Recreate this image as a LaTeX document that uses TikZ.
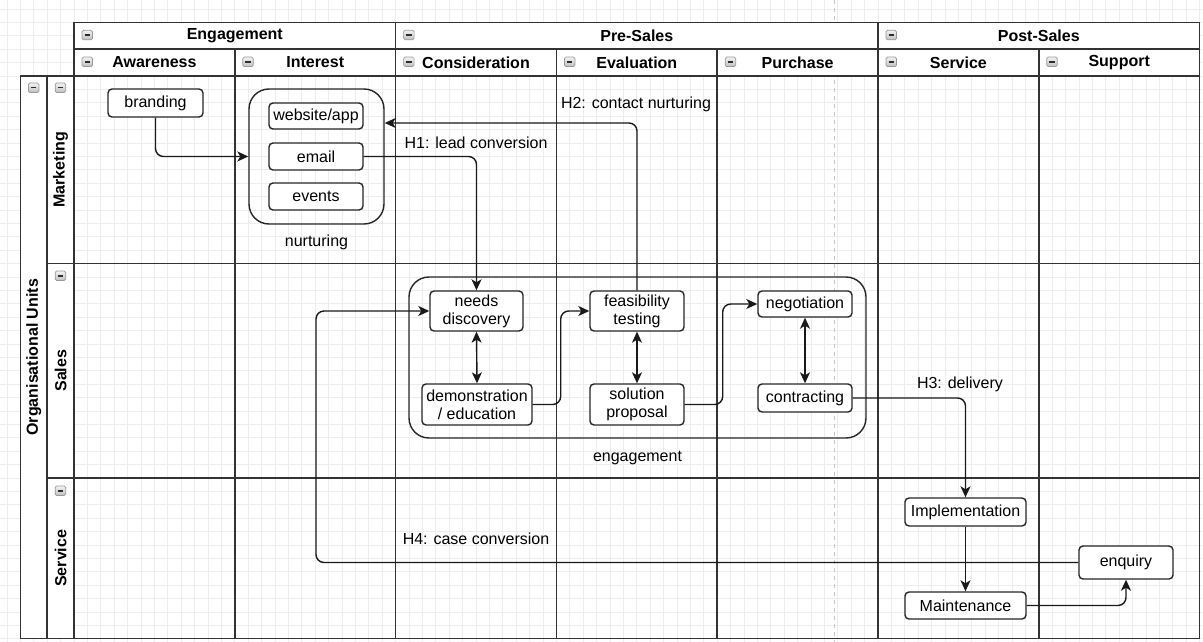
\documentclass[tikz,border=0pt]{standalone}
\usepackage{fontspec}
\setmainfont{Liberation Sans}
\usetikzlibrary{arrows.meta,calc}

\begin{document}
\begin{tikzpicture}[x=1pt,y=-1pt,
  gridline/.style={draw=gray!14, line width=0.7pt},
  lane/.style={line width=1.5pt, draw=black!80},
  hdr/.style={font=\fontsize{16}{19}\selectfont\bfseries, inner sep=0pt},
  box/.style={draw=black!85, line width=1.4pt, rounded corners=4pt, fill=white,
    align=center, inner sep=0pt, font=\fontsize{16}{18}\selectfont},
  group/.style={draw=black!85, line width=1.4pt, rounded corners=20pt, inner sep=0pt},
  lbl/.style={font=\fontsize{16}{18}\selectfont, inner sep=0pt},
  conn/.style={draw=black!90, line width=1.4pt, rounded corners=8pt,
    -{Stealth[length=11pt,width=10pt,inset=3pt]}},
  dconn/.style={draw=black!90, line width=1.4pt,
    {Stealth[length=11pt,width=10pt,inset=3pt]}-{Stealth[length=11pt,width=10pt,inset=3pt]}},
  minusicon/.pic={
    \shadedraw[top color=gray!10, bottom color=gray!50, draw=gray!80, line width=0.7pt,
      rounded corners=1.5pt] (0,0) rectangle (10.5,9.5);
    \draw[gray!35!black, line width=1.5pt] (2.5,4.75) -- (8,4.75);
  }
]
\useasboundingbox (0,0) rectangle (1203,642);

% background grid
\foreach \k in {0,...,89} \draw[gridline] ({7+13.4*\k},0) -- ({7+13.4*\k},642);
\foreach \k in {0,...,47} \draw[gridline] (0,{8.9+13.4*\k}) -- (1203,{8.9+13.4*\k});

% page break marker
\draw[gray!45, dash pattern=on 4pt off 4pt, line width=0.9pt] (834,0) -- (834,642);

% header and lane-title backgrounds
\fill[white] (74,22.3) rectangle (1199.6,75.9);
\fill[white] (20.4,75.9) rectangle (74,638.7);

% swimlane table
\draw[lane] (74,22.3) rectangle (1199.6,638.7);
\draw[lane] (74,49.1) -- (1199.6,49.1);
\draw[lane] (20.4,75.9) -- (1199.6,75.9);
\draw[lane] (20.4,75.9) -- (20.4,638.7) -- (74,638.7);
\draw[lane] (47.2,75.9) -- (47.2,638.7);
\draw[lane] (47.2,263.5) -- (1199.6,263.5);
\draw[lane] (47.2,477.9) -- (1199.6,477.9);
\foreach \x in {395.6,878} \draw[lane] (\x,22.3) -- (\x,638.7);
\foreach \x in {234.8,556.4,717.2,1038.8} \draw[lane] (\x,49.1) -- (\x,638.7);

% phase headers
\node[hdr] (hEng) at (234.8,35.7) {Engagement};
\node[hdr] (hPre) at (636.8,35.7) {Pre-Sales};
\node[hdr] (hPost) at (1038.8,35.7) {Post-Sales};
\foreach \x in {74,395.6,878} \pic at ({\x+8},30.3) {minusicon};

% stage headers
\node[hdr] (hAwa) at (154.4,62.5) {Awareness};
\node[hdr] (hInt) at (315.2,62.5) {Interest};
\node[hdr] (hCon) at (476,62.5) {Consideration};
\node[hdr] (hEva) at (636.8,62.5) {Evaluation};
\node[hdr] (hPur) at (797.6,62.5) {Purchase};
\node[hdr] (hSer) at (958.4,62.5) {Service};
\node[hdr] (hSup) at (1119.2,62.5) {Support};
\foreach \x in {74,234.8,395.6,556.4,717.2,878,1038.8} \pic at ({\x+8},57.1) {minusicon};

% organisational units and lanes
\node[hdr, rotate=90] (hOrg) at (33.8,357.3) {Organisational Units};
\node[hdr, rotate=90] (hMkt) at (60.6,169.7) {Marketing};
\node[hdr, rotate=90] (hSal) at (60.6,370.7) {Sales};
\node[hdr, rotate=90] (hSvc) at (60.6,558.3) {Service};
\pic at (28.4,83) {minusicon};
\pic at (55.2,83) {minusicon};
\pic at (55.2,271) {minusicon};
\pic at (55.2,486) {minusicon};

% marketing lane
\node[box, minimum width=95pt, minimum height=28pt] (brand) at (155.5,103) {branding};
\node[group, minimum width=135pt, minimum height=135pt] (nurt) at (316.5,156.5) {};
\node[lbl] (nurtlbl) at (316.5,242) {nurturing};
\node[box, minimum width=94pt, minimum height=26pt] (web) at (316,116) {website/app};
\node[box, minimum width=94pt, minimum height=27pt] (email) at (316,156.5) {email};
\node[box, minimum width=94pt, minimum height=27pt] (events) at (316,196.5) {events};

% sales lane
\node[group, minimum width=457pt, minimum height=161pt] (eng) at (637.5,357.5) {};
\node[lbl] (englbl) at (637.5,458) {engagement};
\node[box, minimum width=93pt, minimum height=40pt] (needs) at (476.5,311) {needs\\discovery};
\node[box, minimum width=110pt, minimum height=41pt] (demo) at (477,404.5) {demonstration\\/ education};
\node[box, minimum width=94pt, minimum height=40pt] (feas) at (637,311) {feasibility\\testing};
\node[box, minimum width=94pt, minimum height=41pt] (sol) at (637,404.5) {solution\\proposal};
\node[box, minimum width=94pt, minimum height=26pt] (neg) at (805,304) {negotiation};
\node[box, minimum width=94pt, minimum height=28pt] (contr) at (805,398) {contracting};

% service lane
\node[box, minimum width=121pt, minimum height=28pt] (impl) at (965.5,512) {Implementation};
\node[box, minimum width=121pt, minimum height=27pt] (maint) at (965.5,605.5) {Maintenance};
\node[box, minimum width=94pt, minimum height=33pt] (enq) at (1126,562.5) {enquiry};

% connectors
\coordinate (h2y) at (0,123);
\coordinate (h4x) at (316,0);
\draw[conn] (brand.south) |- (nurt.west);
\draw[conn] (email.east) -| (needs.north);
\draw[conn] (feas.north) |- (nurt.east |- h2y);
\draw[dconn] (needs.south) -- (demo.north);
\draw[dconn] (feas.south) -- (sol.north);
\draw[dconn] (neg.south) -- (contr.north);
\draw[conn] (demo.east) -- ++(28,0) |- (feas.west);
\draw[conn] (sol.east) -- ++(38,0) |- (neg.west);
\draw[conn] (contr.east) -| (impl.north);
\draw[conn] (impl.south) -- (maint.north);
\draw[conn] (maint.east) -| (enq.south);
\draw[conn] (enq.west) -- (enq.west -| h4x) |- (needs.west);

% connector labels
\node[lbl] (h1) at (476,143) {H1: lead conversion};
\node[lbl] (h2) at (636,104) {H2: contact nurturing};
\node[lbl] (h3) at (960,384) {H3: delivery};
\node[lbl] (h4) at (476,539) {H4: case conversion};
\end{tikzpicture}
\end{document}
